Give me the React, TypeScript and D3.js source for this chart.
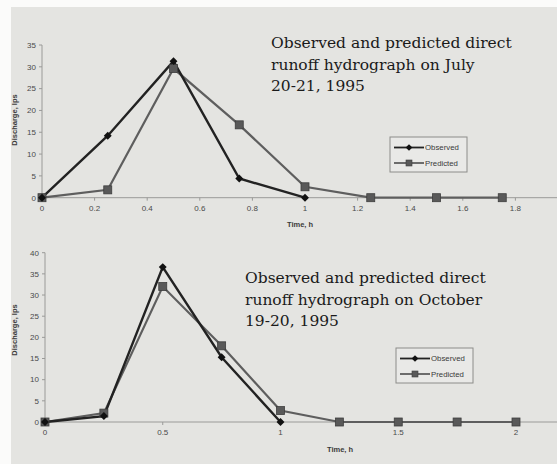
import { useEffect, useRef } from 'react'
import * as d3 from 'd3'

// July 20-21, 1995 event
const julyTime = [0, 0.25, 0.5, 0.75, 1, 1.25, 1.5, 1.75]
const julyObserved = [0, 14.2, 31.3, 4.4, 0]
const julyPredicted = [0, 1.8, 29.6, 16.7, 2.5, 0, 0, 0]
const julyXTicks = [0, 0.2, 0.4, 0.6, 0.8, 1, 1.2, 1.4, 1.6, 1.8]
const julyYTicks = [0, 5, 10, 15, 20, 25, 30, 35]
const julyTitle = ['Observed and predicted direct', 'runoff hydrograph on July', '20-21, 1995']

// October 19-20, 1995 event
const octTime = [0, 0.25, 0.5, 0.75, 1, 1.25, 1.5, 1.75, 2]
const octObserved = [0, 1.4, 36.6, 15.3, 0]
const octPredicted = [0, 2.1, 32, 18, 2.7, 0, 0, 0, 0]
const octXTicks = [0, 0.5, 1, 1.5, 2]
const octYTicks = [0, 5, 10, 15, 20, 25, 30, 35, 40]
const octTitle = ['Observed and predicted direct', 'runoff hydrograph on October', '19-20, 1995']

const seriesNames = ['Observed', 'Predicted']

const W = 557, H = 464
const BG = '#e4e4e1'
const OBS = '#222'
const PRED = '#5e5e5e'
const SANS = "'Liberation Sans', Arial, sans-serif"
const SERIF = "'DejaVu Serif', serif"

type Panel = {
  time: number[], obs: number[], pred: number[], xTicks: number[], yTicks: number[], title: string[]
  xr: [number, number], yr: [number, number], yMax: number, titleX: number, titleY: number,
  legend: { x: number, y: number }, xLabel: { x: number, y: number }, yLabelY: number,
  tickFmt: (v: number) => string
}

function drawPanel(svg: d3.Selection<SVGSVGElement, unknown, null, undefined>, p: Panel) {
  const g = svg.append('g')
  const x = d3.scaleLinear().domain([0, 2]).range(p.xr)
  const y = d3.scaleLinear().domain([0, p.yMax]).range(p.yr)

  // axes
  g.append('line').attr('x1', x(0)).attr('x2', W).attr('y1', y(0)).attr('y2', y(0))
    .attr('stroke', '#9a9a98').attr('stroke-width', 1)
  g.append('line').attr('x1', x(0)).attr('x2', x(0)).attr('y1', y(0)).attr('y2', y(p.yMax))
    .attr('stroke', '#9a9a98').attr('stroke-width', 1)

  g.selectAll(null).data(p.yTicks).join('line')
    .attr('x1', x(0) - 3).attr('x2', x(0)).attr('y1', d => y(d)).attr('y2', d => y(d))
    .attr('stroke', '#9a9a98')
  g.selectAll(null).data(p.yTicks).join('text')
    .attr('x', x(0) - 6).attr('y', d => y(d)).attr('dy', '0.35em')
    .attr('text-anchor', 'end').attr('font-size', 8).attr('font-family', SANS).attr('fill', '#4a4a4a')
    .text(d => d)

  g.selectAll(null).data(p.xTicks).join('line')
    .attr('x1', d => x(d)).attr('x2', d => x(d)).attr('y1', y(0)).attr('y2', y(0) + 3)
    .attr('stroke', '#9a9a98')
  g.selectAll(null).data(p.xTicks).join('text')
    .attr('x', d => x(d)).attr('y', y(0) + 13)
    .attr('text-anchor', 'middle').attr('font-size', 8).attr('font-family', SANS).attr('fill', '#4a4a4a')
    .text(d => p.tickFmt(d))

  g.append('text').attr('x', p.xLabel.x).attr('y', p.xLabel.y)
    .attr('text-anchor', 'middle').attr('font-size', 7.5).attr('font-weight', 'bold')
    .attr('font-family', SANS).attr('fill', '#3a3a3a').text('Time, h')
  g.append('text').attr('transform', `translate(17,${p.yLabelY}) rotate(-90)`)
    .attr('text-anchor', 'middle').attr('font-size', 7.5).attr('font-weight', 'bold')
    .attr('font-family', SANS).attr('fill', '#3a3a3a').text('Discharge, lps')

  // series
  const line = d3.line<number>().x((_, i) => x(p.time[i])).y(d => y(d))
  g.append('path').datum(p.pred).attr('d', line).attr('fill', 'none')
    .attr('stroke', PRED).attr('stroke-width', 2.2)
  g.append('path').datum(p.obs).attr('d', line).attr('fill', 'none')
    .attr('stroke', OBS).attr('stroke-width', 2.4)

  const sq = 8
  g.selectAll(null).data(p.pred).join('rect')
    .attr('x', (_, i) => x(p.time[i]) - sq / 2).attr('y', d => y(d) - sq / 2)
    .attr('width', sq).attr('height', sq).attr('fill', '#595959').attr('stroke', '#3e3e3e').attr('stroke-width', 0.8)
  const diamond = d3.symbol().type(d3.symbolDiamond2).size(40)
  g.selectAll(null).data(p.obs).join('path')
    .attr('d', diamond).attr('transform', (d, i) => `translate(${x(p.time[i])},${y(d)})`)
    .attr('fill', '#111')

  // legend
  const L = p.legend
  g.append('rect').attr('x', L.x).attr('y', L.y).attr('width', 77).attr('height', 35)
    .attr('fill', '#e9e9e7').attr('stroke', '#8c8c8a').attr('stroke-width', 1)
  seriesNames.forEach((name, i) => {
    const yy = L.y + 10.5 + i * 15.5
    g.append('line').attr('x1', L.x + 4).attr('x2', L.x + 34).attr('y1', yy).attr('y2', yy)
      .attr('stroke', i === 0 ? OBS : PRED).attr('stroke-width', 1.8)
    if (i === 0) {
      g.append('path').attr('d', d3.symbol().type(d3.symbolDiamond2).size(28))
        .attr('transform', `translate(${L.x + 19},${yy})`).attr('fill', '#111')
    } else {
      g.append('rect').attr('x', L.x + 16).attr('y', yy - 3).attr('width', 6).attr('height', 6)
        .attr('fill', '#595959').attr('stroke', '#3e3e3e').attr('stroke-width', 0.6)
    }
    g.append('text').attr('x', L.x + 35).attr('y', yy).attr('dy', '0.35em')
      .attr('font-size', 7.8).attr('font-family', SANS).attr('fill', '#3a3a3a').text(name)
  })

  // caption
  g.append('text').attr('x', p.titleX).attr('y', p.titleY)
    .attr('font-size', 15.5).attr('font-family', SERIF).attr('fill', '#1a1a1a')
    .selectAll('tspan').data(p.title).join('tspan')
    .attr('x', p.titleX).attr('dy', (_, i) => (i === 0 ? 0 : 21.7)).text(d => d)
}

export default function App() {
  const ref = useRef<SVGSVGElement>(null)

  useEffect(() => {
    document.body.style.margin = '0'
    const svg = d3.select(ref.current!)
    svg.selectAll('*').remove()
    svg.append('rect').attr('width', W).attr('height', H).attr('fill', '#fbfbfa')
    svg.append('rect').attr('x', 11).attr('y', 7).attr('width', W - 11).attr('height', H - 7).attr('fill', BG)

    drawPanel(svg, {
      time: julyTime, obs: julyObserved, pred: julyPredicted, xTicks: julyXTicks, yTicks: julyYTicks, title: julyTitle,
      xr: [42, 568], yr: [197.7, 45], yMax: 35, titleX: 271, titleY: 48,
      legend: { x: 390, y: 137 }, xLabel: { x: 300, y: 227 }, yLabelY: 120,
      tickFmt: d3.format('~g'),
    })
    drawPanel(svg, {
      time: octTime, obs: octObserved, pred: octPredicted, xTicks: octXTicks, yTicks: octYTicks, title: octTitle,
      xr: [45, 516], yr: [422, 252.7], yMax: 40, titleX: 245, titleY: 283,
      legend: { x: 396, y: 348 }, xLabel: { x: 340, y: 452 }, yLabelY: 330,
      tickFmt: d3.format('~g'),
    })
  }, [])

  return <svg ref={ref} width={W} height={H} style={{ display: 'block' }} />
}
